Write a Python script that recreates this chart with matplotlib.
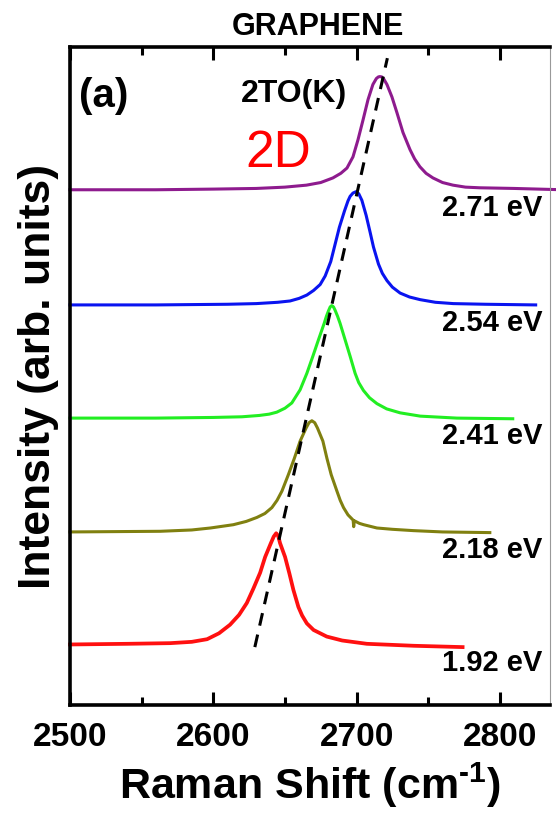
"""Graphene 2D (2TO(K)) Raman band at several excitation energies, stacked."""

import matplotlib

matplotlib.use("Agg")
import matplotlib.pyplot as plt
from matplotlib.ticker import MultipleLocator

# --- data (Raman shift in cm^-1, intensity in arb. units) ---
energies = ["2.71 eV", "2.54 eV", "2.41 eV", "2.18 eV", "1.92 eV"]
colors = ["#8e1b8e", "#0a14f0", "#22ee22", "#808010", "#ff1010"]
offsets = [7.83, 6.08, 4.36, 2.64, 0.91]

shift_271 = [2500, 2560, 2600, 2630, 2650, 2665, 2675, 2683.5, 2689, 2693.3,
             2697.5, 2701, 2704.5, 2708, 2711.4, 2713.8, 2715.2, 2716.3, 2717.6,
             2718.8, 2721.2, 2724.7, 2728.2, 2732.4, 2737.3, 2740.5, 2744.2, 2748.5,
             2753.3, 2760, 2767.3, 2776, 2786, 2810, 2844]
int_271 = [0.0, 0.0, 0.01, 0.02, 0.04, 0.07, 0.11, 0.18, 0.25, 0.33,
           0.50, 0.76, 1.06, 1.37, 1.60, 1.69, 1.715, 1.72, 1.715,
           1.69, 1.60, 1.41, 1.17, 0.87, 0.61, 0.47, 0.35, 0.25,
           0.18, 0.11, 0.07, 0.04, 0.03, 0.02, 0.0]

shift_254 = [2500, 2560, 2610, 2630, 2645, 2653.6, 2660, 2665.3, 2670, 2674.6,
             2678.1, 2682, 2685, 2688, 2691.6, 2694, 2695.5, 2697.5, 2699.5, 2701.5,
             2703.7, 2706.7, 2709.5, 2711.8, 2715.3, 2718, 2721.2, 2725, 2730.4,
             2737, 2744.4, 2755, 2767.5, 2790, 2825]
int_254 = [0.0, 0.0, 0.01, 0.02, 0.04, 0.06, 0.10, 0.15, 0.22, 0.31,
           0.44, 0.66, 0.92, 1.18, 1.43, 1.58, 1.65, 1.70, 1.72, 1.69,
           1.59, 1.36, 1.10, 0.88, 0.62, 0.48, 0.37, 0.27, 0.18,
           0.12, 0.08, 0.04, 0.02, 0.01, 0.0]

shift_241 = [2500, 2560, 2600, 2620, 2632, 2639, 2644.3, 2650, 2654.8, 2660.6,
             2665.3, 2669.5, 2673.4, 2677.4, 2679, 2680.4, 2681.6, 2682.7, 2683.9,
             2685, 2686.7, 2688.5, 2692, 2695.5, 2699, 2701.5, 2704.8, 2709,
             2714.2, 2721, 2730.4, 2744.4, 2770, 2809]
int_241 = [0.0, 0.0, 0.01, 0.02, 0.04, 0.06, 0.09, 0.15, 0.23, 0.43,
           0.68, 0.94, 1.19, 1.44, 1.55, 1.63, 1.69, 1.71, 1.69,
           1.64, 1.55, 1.44, 1.19, 0.94, 0.68, 0.54, 0.42, 0.31,
           0.22, 0.14, 0.08, 0.03, 0.0, -0.01]

shift_218 = [2500, 2563, 2585, 2598, 2614, 2623, 2630.4, 2636, 2640.9, 2644.5,
             2647.9, 2652.4, 2656.6, 2660.6, 2664.8, 2666.8, 2668.8, 2670.8, 2672.7,
             2676.5, 2679.3, 2682.3, 2686.3, 2688.6, 2690.9, 2694, 2697.6, 2698.0,
             2698.4, 2702, 2705, 2714.2, 2725, 2739.7, 2760, 2793]
int_218 = [-0.01, 0.0, 0.02, 0.05, 0.10, 0.15, 0.21, 0.27, 0.36, 0.47,
           0.61, 0.86, 1.11, 1.37, 1.57, 1.65, 1.68, 1.65, 1.57,
           1.37, 1.11, 0.86, 0.61, 0.47, 0.36, 0.25, 0.17, 0.07,
           0.16, 0.12, 0.10, 0.05, 0.03, 0.01, -0.01, -0.02]

shift_192 = [2500, 2540, 2570, 2585, 2595.7, 2604, 2611.7, 2618, 2623.4, 2628,
             2632.7, 2636.2, 2640.2, 2642.2, 2643.9, 2645.3, 2646.6, 2650.1, 2653.1,
             2655.9, 2659.4, 2662, 2665.3, 2670, 2679.2, 2690, 2707.2, 2740, 2774]
int_192 = [0.01, 0.02, 0.03, 0.05, 0.09, 0.18, 0.31, 0.46, 0.64, 0.86,
           1.10, 1.34, 1.55, 1.65, 1.70, 1.66, 1.55, 1.34, 1.09,
           0.84, 0.58, 0.45, 0.33, 0.23, 0.13, 0.07, 0.02, -0.01, -0.03]

shifts = [shift_271, shift_254, shift_241, shift_218, shift_192]
intensities = [int_271, int_254, int_241, int_218, int_192]

# dispersion guide through the peak maxima
guide_x = [2629, 2721.5]
guide_y = [0.88, 9.83]


def main():
    plt.rcParams["font.family"] = ["Liberation Sans", "DejaVu Sans"]
    plt.rcParams["font.weight"] = "bold"
    plt.rcParams["mathtext.fontset"] = "custom"
    plt.rcParams["mathtext.rm"] = "Liberation Sans:bold"
    plt.rcParams["mathtext.bf"] = "Liberation Sans:bold"

    fig = plt.figure(figsize=(5.56, 8.14), dpi=100)
    ax = fig.add_axes([0.1259, 0.1339, 0.8633, 0.8084])

    for x, y, off, col in zip(shifts, intensities, offsets, colors):
        lw = 2.7 if col == "#ff1010" else 2.2
        ax.plot(x, [v + off for v in y], color=col, lw=lw,
                solid_joinstyle="round", clip_on=False)

    ax.plot(guide_x, guide_y, color="black", lw=2.2, dashes=(4.2, 3.0))

    for lab, off in zip(energies, offsets):
        ax.text(2829.5, off - 0.40, lab, ha="right", va="baseline",
                fontsize=21, fontweight="bold")

    ax.text(2506, 9.09, "(a)", ha="left", va="baseline", fontsize=29, fontweight="bold")
    ax.text(2656, 9.16, "2TO(K)", ha="center", va="baseline", fontsize=23, fontweight="bold")
    ax.text(2645, 8.18, "2D", ha="center", va="baseline", fontsize=37,
            fontweight="normal", color="red")
    ax.text(2673, 10.18, "GRAPHENE", ha="center", va="baseline", fontsize=22,
            fontweight="bold", clip_on=False)

    ax.set_xlim(2500, 2835)
    ax.set_ylim(0, 10)
    ax.xaxis.set_major_locator(MultipleLocator(100))
    ax.xaxis.set_minor_locator(MultipleLocator(50))
    ax.set_yticks([])
    ax.tick_params(axis="x", which="both", direction="in", top=True, width=2.2)
    ax.tick_params(axis="x", which="major", length=9.5, labelsize=24, pad=12)
    ax.tick_params(axis="x", which="minor", length=5.5)
    for lab in ax.get_xticklabels():
        lab.set_fontweight("bold")

    for side in ("left", "bottom", "top"):
        ax.spines[side].set_linewidth(2.6)
    ax.spines["right"].set_linewidth(0.8)
    ax.spines["right"].set_color("#999999")

    ax.set_xlabel(r"Raman Shift (cm$^{\text{-}1}$)", fontsize=31, fontweight="bold",
                  labelpad=6)
    ax.set_ylabel("Intensity (arb. units)", fontsize=32, fontweight="bold", labelpad=8)

    fig.savefig("out.png", dpi=100)


if __name__ == "__main__":
    main()
